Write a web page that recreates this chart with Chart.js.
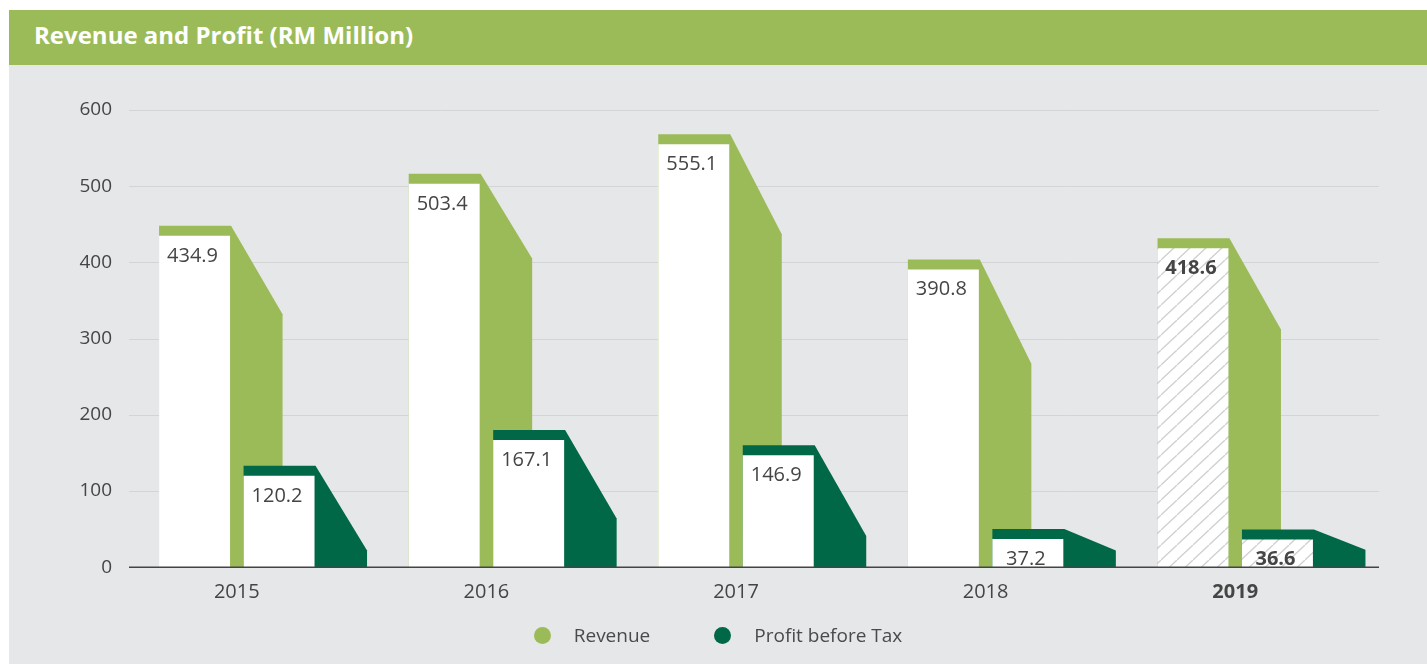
<!DOCTYPE html>
<html>
<head>
<meta charset="utf-8">
<title>Revenue and Profit</title>
<script src="https://cdn.jsdelivr.net/npm/chart.js@4.4.1/dist/chart.umd.min.js"></script>
<style>
  html, body { margin: 0; padding: 0; background: #fff; }
  #panel { position: absolute; left: 9px; top: 10px; width: 1418px; height: 654px; font-family: 'Open Sans', sans-serif; }
  #header { height: 55px; background: #9bbb59; color: #fff; font-weight: 700; font-size: 24px; line-height: 50px; padding-left: 25px; box-sizing: border-box; }
  #body { position: relative; height: 599px; background: #e6e7e8; }
  #chartBox { position: absolute; left: 0; top: 0; width: 1418px; height: 599px; }
  #legend { position: absolute; top: 557px; left: 0; width: 100%; display: flex; justify-content: center; font-size: 19px; line-height: 26px; color: #4a4a4a; }
  #legend .item { display: flex; align-items: center; margin: 0 32px; }
  #legend i { display: inline-block; width: 17px; height: 17px; border-radius: 50%; margin-right: 23px; }
</style>
</head>
<body>
<div id="panel">
  <div id="header">Revenue and Profit (RM Million)</div>
  <div id="body">
    <div id="chartBox"><canvas id="revChart"></canvas></div>
    <div id="legend"></div>
  </div>
</div>
<script>
const years = ['2015', '2016', '2017', '2018', '2019'];
const revenue = [434.9, 503.4, 555.1, 390.8, 418.6];
const profit = [120.2, 167.1, 146.9, 37.2, 36.6];
// height (RM Million) where each slanted side panel meets its outer edge
const revenueSide = [332, 405, 437, 267, 312];
const profitSide = [22, 64, 41, 22, 23];
const yTicks = [0, 100, 200, 300, 400, 500, 600];
const seriesNames = ['Revenue', 'Profit before Tax'];
const seriesColors = ['#9bbb59', '#006846'];

const sides = [revenueSide, profitSide];
const latest = years.length - 1;   // the current year is hatched and bold
const CAP = 10;                    // coloured lip above each bar
const GRID_LEFT = 120, GRID_RIGHT = 1370;
const TEXT = '#454545';

// white tile with thin grey diagonals for the current year
function hatchPattern() {
    const w = 16, h = 15;
    const c = document.createElement('canvas');
    c.width = w; c.height = h;
    const g = c.getContext('2d');
    g.fillStyle = '#fff';
    g.fillRect(0, 0, w, h);
    g.strokeStyle = '#cfd0d1';
    g.lineWidth = 1.3;
    g.beginPath();
    g.moveTo(0, h); g.lineTo(w, 0);
    g.moveTo(-w, h); g.lineTo(0, 0);
    g.moveTo(w, 2 * h); g.lineTo(2 * w, h);
    g.stroke();
    return g.createPattern(c, 'repeat');
}
const hatch = hatchPattern();
const barFill = years.map((y, i) => i === latest ? hatch : '#ffffff');

// grid, then the coloured lip + slanted side panel behind each white bar
const sidePanels = {
    id: 'sidePanels',
    beforeDatasetsDraw(chart) {
        const { ctx, scales: { y } } = chart;
        const base = y.getPixelForValue(0);
        ctx.save();
        ctx.strokeStyle = '#d3d4d6';
        ctx.lineWidth = 1;
        y.ticks.forEach(t => {
            if (t.value === 0) return;
            const py = Math.round(y.getPixelForValue(t.value)) + 0.5;
            ctx.beginPath();
            ctx.moveTo(GRID_LEFT, py);
            ctx.lineTo(GRID_RIGHT, py);
            ctx.stroke();
        });
        sides.forEach((side, di) => {
            ctx.fillStyle = seriesColors[di];
            chart.getDatasetMeta(di).data.forEach((bar, i) => {
                const left = bar.x - bar.width / 2;
                const right = bar.x + bar.width / 2;
                const top = bar.y - CAP;
                const edge = right + bar.width * 0.74;
                ctx.beginPath();
                ctx.moveTo(left, top);
                ctx.lineTo(right + 1, top);
                ctx.lineTo(edge, y.getPixelForValue(side[i]));
                ctx.lineTo(edge, base);
                ctx.lineTo(left, base);
                ctx.closePath();
                ctx.fill();
            });
        });
        ctx.restore();
    },
    afterDatasetsDraw(chart) {
        const { ctx, scales: { y } } = chart;
        const base = y.getPixelForValue(0);
        ctx.save();
        ctx.strokeStyle = '#444';
        ctx.lineWidth = 1.5;
        ctx.beginPath();
        ctx.moveTo(GRID_LEFT, base);
        ctx.lineTo(GRID_RIGHT, base);
        ctx.stroke();
        ctx.fillStyle = TEXT;
        ctx.textAlign = 'center';
        ctx.textBaseline = 'alphabetic';
        [revenue, profit].forEach((vals, di) => {
            chart.getDatasetMeta(di).data.forEach((bar, i) => {
                ctx.font = (i === latest ? 'bold ' : '') + '20px "Open Sans"';
                ctx.fillText(vals[i].toFixed(1), bar.x - 2, bar.y + 26);
            });
        });
        ctx.restore();
    }
};

new Chart(document.getElementById('revChart'), {
    type: 'bar',
    data: {
        labels: years,
        datasets: [
            { label: seriesNames[0], data: revenue, backgroundColor: barFill, borderWidth: 0 },
            { label: seriesNames[1], data: profit, backgroundColor: barFill, borderWidth: 0 }
        ]
    },
    options: {
        responsive: true,
        maintainAspectRatio: false,
        animation: false,
        categoryPercentage: 0.677,
        barPercentage: 0.84,
        layout: { padding: { left: 0, right: 67, top: 45, bottom: 56.7 } },
        plugins: {
            legend: { display: false },
            tooltip: { enabled: false }
        },
        scales: {
            x: {
                grid: { display: false },
                border: { display: false },
                ticks: {
                    padding: 5,
                    color: TEXT,
                    font: ctx => ({ family: 'Open Sans', size: 20, weight: ctx.index === latest ? 'bold' : 'normal' })
                },
                afterFit: s => { s.height = 40; }
            },
            y: {
                min: 0,
                max: 600,
                afterBuildTicks: s => { s.ticks = yTicks.map(v => ({ value: v })); },
                grid: { display: false, drawTicks: false },
                border: { display: false },
                ticks: { padding: 0, color: TEXT, font: { family: 'Open Sans', size: 19 } },
                afterFit: s => { s.width = 103; }
            }
        }
    },
    plugins: [sidePanels]
});

// legend
document.getElementById('legend').innerHTML = seriesNames.map((n, i) =>
    '<span class="item"><i style="background:' + seriesColors[i] + '"></i>' + n + '</span>').join('');
</script>
</body>
</html>
